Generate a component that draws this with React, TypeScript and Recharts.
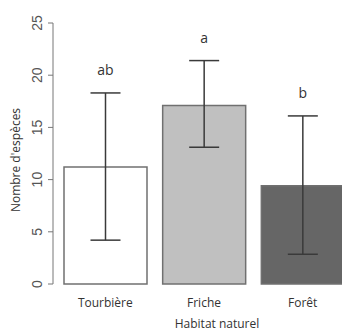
import { BarChart, Bar, XAxis, YAxis, ErrorBar, Cell, LabelList } from "recharts";

const habitats = ["Tourbière", "Friche", "Forêt"];
const means = [11.2, 17.1, 9.4];
const lower = [4.2, 13.1, 2.85];
const upper = [18.3, 21.4, 16.1];
const letters = ["ab", "a", "b"];
const fills = ["#ffffff", "#c0c0c0", "#666666"];
const yTicks = [0, 5, 10, 15, 20, 25];

const data = habitats.map((h, i) => ({
  name: h,
  value: means[i],
  err: [means[i] - lower[i], upper[i] - means[i]],
  upper: upper[i],
  letter: letters[i],
}));

const font = "'Open Sans', 'DejaVu Sans', sans-serif";

function YTick(props: any) {
  const { x, y, payload } = props;
  return (
    <text
      x={x - 4}
      y={y}
      transform={`rotate(-90 ${x - 4} ${y})`}
      textAnchor="middle"
      fontFamily="'Liberation Sans', Arial, sans-serif"
      fontSize={14}
      fill="#555"
    >
      {payload.value}
    </text>
  );
}

function XTick(props: any) {
  const { x, y, payload } = props;
  return (
    <text x={x} y={y + 15} textAnchor="middle" fontFamily={font} fontSize={12} fill="#333">
      {payload.value}
    </text>
  );
}

function Letter(props: any) {
  const { x, y, width, height, index } = props;
  const d = data[index];
  const perUnit = height / d.value;
  const top = y + height - d.upper * perUnit;
  return (
    <text x={x + width / 2} y={top - 18} textAnchor="middle" fontFamily={font} fontSize={14} fill="#333">
      {d.letter}
    </text>
  );
}

export default function App() {
  return (
    <div style={{ position: "fixed", left: 0, top: 0, width: 342, height: 333, overflow: "hidden", background: "#fff" }}>
      <BarChart
        width={352}
        height={333}
        data={data}
        margin={{ top: 23, right: 0, bottom: 0, left: 0 }}
      >
        <XAxis
          dataKey="name"
          axisLine={false}
          tickLine={false}
          tick={<XTick />}
          padding={{ left: 3, right: 0 }}
          height={49}
          interval={0}
        />
        <YAxis
          domain={[0, 25]}
          ticks={yTicks}
          width={53}
          tickSize={5}
          axisLine={{ stroke: "#777", strokeWidth: 1 }}
          tickLine={{ stroke: "#777" }}
          tick={<YTick />}
          interval={0}
        />
        <Bar dataKey="value" barSize={83} stroke="#707070" strokeWidth={1.5} isAnimationActive={false}>
          {data.map((d, i) => (
            <Cell key={d.name} fill={fills[i]} />
          ))}
          <ErrorBar dataKey="err" width={15} stroke="#3a3a3a" strokeWidth={1.5} />
          <LabelList dataKey="letter" content={<Letter />} />
        </Bar>
      </BarChart>
      <div
        style={{
          position: "absolute",
          left: 15,
          top: 160,
          transform: "translate(-50%, -50%) rotate(-90deg)",
          fontFamily: font,
          fontSize: 12,
          color: "#333",
          whiteSpace: "nowrap",
        }}
      >
        Nombre d'espèces
      </div>
      <div
        style={{
          position: "absolute",
          left: 217,
          top: 324,
          transform: "translate(-50%, -50%)",
          fontFamily: font,
          fontSize: 12,
          lineHeight: "14px",
          color: "#333",
          whiteSpace: "nowrap",
        }}
      >
        Habitat naturel
      </div>
    </div>
  );
}
